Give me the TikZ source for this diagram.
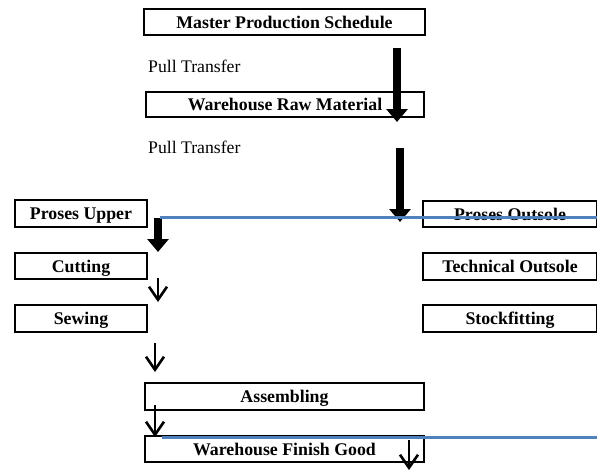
\documentclass[tikz,border=0pt]{standalone}
\usepackage{fontspec}
\setmainfont{Liberation Serif}
\usetikzlibrary{arrows.meta}
\definecolor{lineblue}{RGB}{79,129,189}
\tikzstyle{bx}=[shape=rectangle,draw,line width=1.5pt,inner sep=0pt,text height=15pt,text depth=2.4pt,font=\fontsize{17.8}{20}\selectfont\bfseries]
\tikzstyle{lbl}=[anchor=base west,inner sep=0pt,font=\fontsize{17.7}{20}\selectfont]
\tikzstyle{bigto}=[-{Triangle[width=21pt,length=13pt]},line width=8pt]
\tikzstyle{to}=[-{Straight Barb[width=18pt,length=13pt]},line width=2.6pt]
\tikzstyle{cut}=[lineblue,line width=3pt]

\begin{document}
\begin{tikzpicture}[x=1pt,y=-1pt]
        \useasboundingbox (0,0) rectangle (597,472);
        % boxes
        \node[bx,minimum width=281pt,minimum height=26pt] (mps) at (284.5,22) {Master Production Schedule};
        \node[bx,minimum width=278pt,minimum height=25pt] (wrm) at (285,104.5) {Warehouse Raw Material};
        \node[bx,minimum width=132pt,minimum height=27pt] (pu) at (81,213.5) {Proses Upper};
        \node[bx,minimum width=132pt,minimum height=26pt] (cut) at (81,266) {Cutting};
        \node[bx,minimum width=132pt,minimum height=27pt] (sew) at (81,318.5) {Sewing};
        \node[bx,minimum width=174pt,minimum height=26pt] (po) at (510,214) {Proses Outsole};
        \node[bx,minimum width=174pt,minimum height=27pt] (tos) at (510,266.5) {Technical Outsole};
        \node[bx,minimum width=174pt,minimum height=27pt] (sf) at (510,318.5) {Stockfitting};
        \node[bx,minimum width=279pt,minimum height=27pt] (asm) at (284.5,396.5) {Assembling};
        \node[bx,minimum width=279pt,minimum height=26pt] (wfg) at (284.5,449) {Warehouse Finish Good};
        % labels
        \node[lbl] (pt1) at (148,72) {Pull Transfer};
        \node[lbl] (pt2) at (148,153) {Pull Transfer};
        % arrows
        \coordinate (b1) at (397,122);
        \coordinate (a1) at (397,48)
            edge[bigto] (b1)
        ;
        \coordinate (b2) at (400,222);
        \coordinate (a2) at (400,148)
            edge[bigto] (b2)
        ;
        \coordinate (b3) at (158,252);
        \coordinate (a3) at (158,218)
            edge[bigto] (b3)
        ;
        \coordinate (b4) at (158,302);
        \coordinate (a4) at (158,278)
            edge[to] (b4)
        ;
        \coordinate (b5) at (155,372);
        \coordinate (a5) at (155,343)
            edge[to] (b5)
        ;
        \coordinate (b6) at (155,437);
        \coordinate (a6) at (155,405)
            edge[to] (b6)
        ;
        \coordinate (b7) at (409,470);
        \coordinate (a7) at (409,440)
            edge[to] (b7)
        ;
        % blue lines
        \coordinate (l1) at (160,217);
        \coordinate (r1) at (597,217);
        \coordinate (l2) at (162,437);
        \coordinate (r2) at (597,437);
        \draw[cut] (l1) -- (r1);
        \draw[cut] (l2) -- (r2);
    \end{tikzpicture}
\end{document}
